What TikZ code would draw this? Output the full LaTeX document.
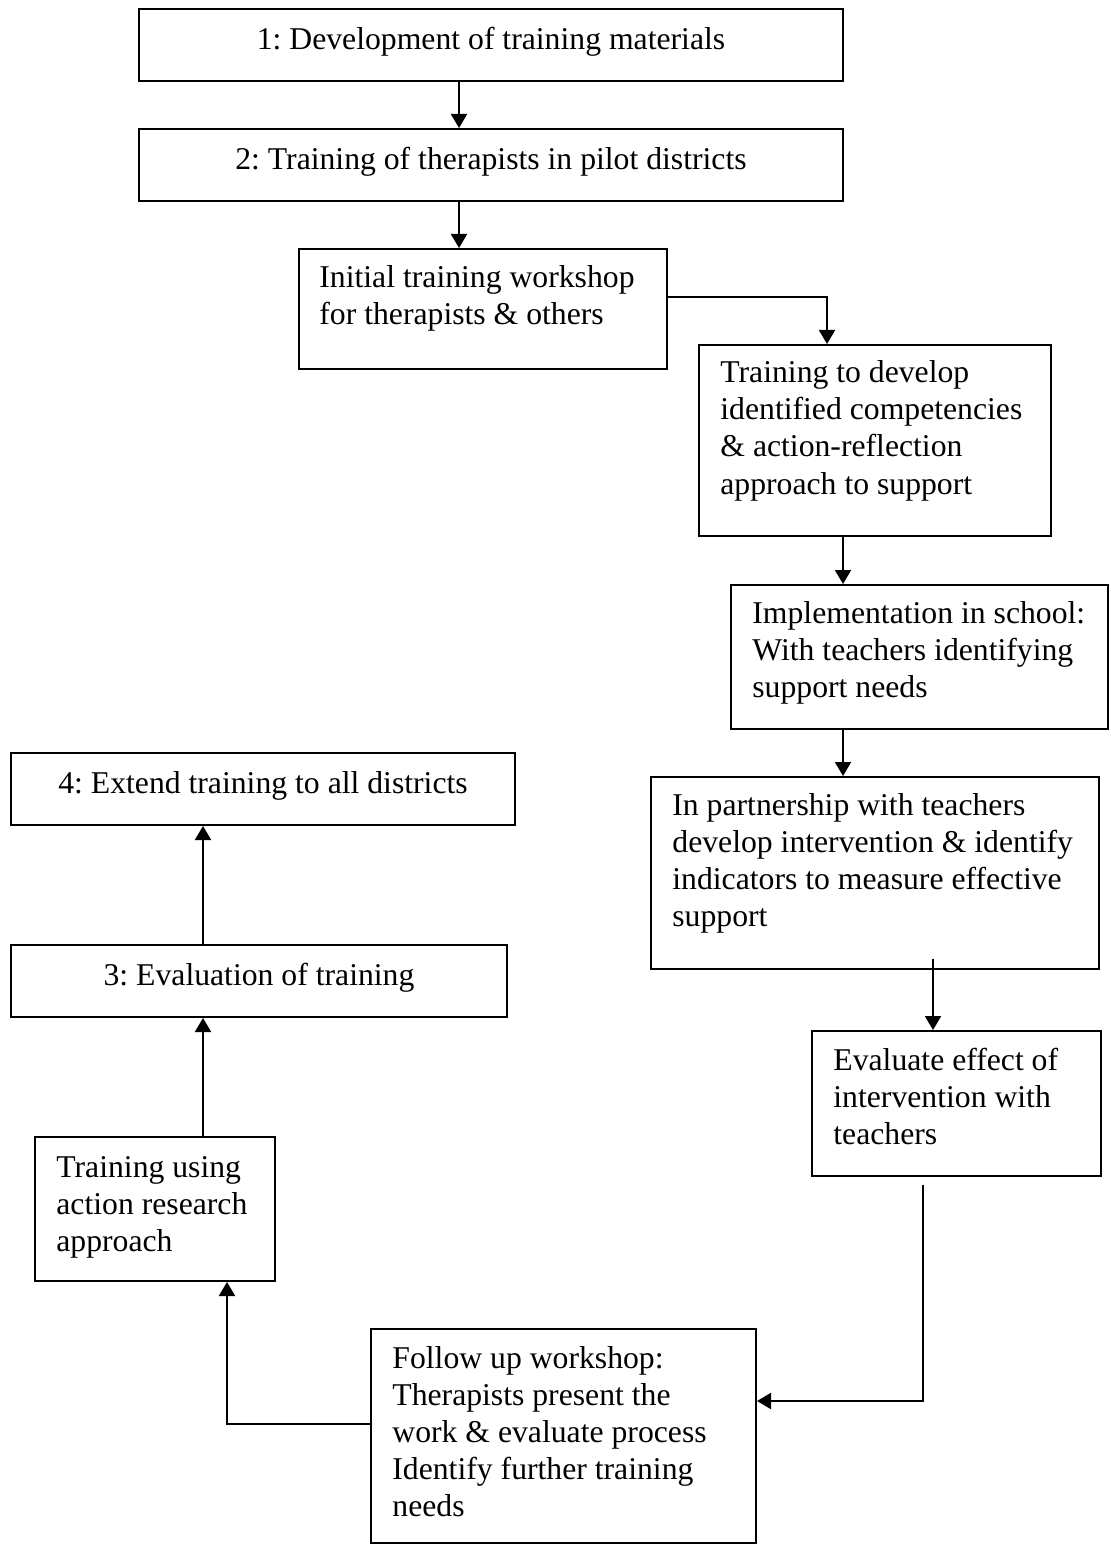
\documentclass[tikz,border=0pt]{standalone}
\usepackage{fontspec}
\setmainfont{Liberation Serif}
\usetikzlibrary{arrows.meta,fit}
\frenchspacing
\newcommand\boxfont{\fontsize{15.85pt}{18.5pt}\selectfont}
\newcommand\stacklines[1]{\begin{tabular}[t]{@{}l@{}}#1\end{tabular}}
\begin{document}
\begin{tikzpicture}[x=0.5pt,y=-0.5pt,
  box/.style={draw, line width=1pt, inner sep=0pt},
  txt/.style={anchor=base west, inner sep=0pt, font=\boxfont},
  ctxt/.style={anchor=base, inner sep=0pt, font=\boxfont},
  link/.style={line width=1pt},
  arr/.style={link, -{Triangle[length=7pt,width=8pt]}}]

\fill[white] (0,0) rectangle (1110,1545);
\useasboundingbox (0,0) rectangle (1110,1545);

% boxes
\node[box, fit={(139,9) (843,81)}]     (b1)  {};
\node[box, fit={(139,129) (843,201)}]  (b2)  {};
\node[box, fit={(299,249) (667,369)}]  (b3)  {};
\node[box, fit={(699,345) (1051,536)}] (b4)  {};
\node[box, fit={(731,585) (1108,729)}] (b5)  {};
\node[box, fit={(651,777) (1099,969)}] (b6)  {};
\node[box, fit={(812,1031) (1101,1176)}] (b7) {};
\node[box, fit={(371,1329) (756,1543)}] (b8) {};
\node[box, fit={(35,1137) (275,1281)}] (b9)  {};
\node[box, fit={(11,945) (507,1017)}]  (b10) {};
\node[box, fit={(11,753) (515,825)}]   (b11) {};

% texts
\node[ctxt] (t1) at (491,50) {1: Development of training materials};
\node[ctxt] (t2) at (491,170) {2: Training of therapists in pilot districts};
\node[txt] (t3) at (319,288) {\stacklines{Initial training workshop\\for therapists \& others}};
\node[txt] (t4) at (720,383) {\stacklines{Training to develop\\identified competencies\\\& action-reflection\\approach to support}};
\node[txt] (t5) at (752,623) {\stacklines{Implementation in school:\\With teachers identifying\\support needs}};
\node[txt] (t6) at (672,815) {\stacklines{In partnership with teachers\\develop intervention \& identify\\indicators to measure effective\\support}};
\node[txt] (t7) at (833,1070) {\stacklines{Evaluate effect of\\intervention with\\teachers}};
\node[txt] (t8) at (392,1368) {\stacklines{Follow up workshop:\\Therapists present the\\work \& evaluate process\\Identify further training\\needs}};
\node[txt] (t9) at (56,1177) {\stacklines{Training using\\action research\\approach}};
\node[ctxt] (t10) at (259,985) {3: Evaluation of training};
\node[ctxt] (t11) at (263,793) {4: Extend training to all districts};

% connector guides
\coordinate (xa) at (459,0);
\coordinate (xb) at (827,297);
\coordinate (xc) at (843,0);
\coordinate (s6) at (933,959);
\coordinate (s7) at (923,1185);
\coordinate (k7) at (923,1401);
\coordinate (y8) at (0,1424);
\coordinate (xl) at (227,0);
\coordinate (xd) at (203,0);

% connectors
\draw[arr] (b1.south -| xa) -- (b2.north -| xa);
\draw[arr] (b2.south -| xa) -- (b3.north -| xa);
\draw[arr] (b3.east |- xb) -- (xb) -- (b4.north -| xb);
\draw[arr] (b4.south -| xc) -- (b5.north -| xc);
\draw[arr] (b5.south -| xc) -- (b6.north -| xc);
\draw[arr] (s6) -- (b7.north -| s6);
\draw[arr] (s7) -- (k7) -- (b8.east |- k7);
\draw[arr] (b8.west |- y8) -- (xl |- y8) -- (b9.south -| xl);
\draw[arr] (b9.north -| xd) -- (b10.south -| xd);
\draw[arr] (b10.north -| xd) -- (b11.south -| xd);
\end{tikzpicture}
\end{document}
